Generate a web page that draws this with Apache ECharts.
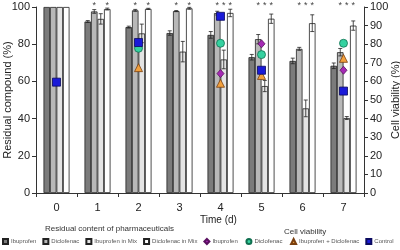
<!DOCTYPE html>
<html>
<head>
<meta charset="utf-8">
<script src="https://cdn.jsdelivr.net/npm/echarts@6/dist/echarts.min.js"></script>
<style>
  html, body { margin: 0; padding: 0; background: #fff; }
  #chart { width: 400px; height: 250px; }
</style>
</head>
<body>
<div id="chart"></div>
<script>
// days on the x axis
const days = ['0', '1', '2', '3', '4', '5', '6', '7'];

// residual compound (%), bars
const ibuprofen = [100, 92.2, 89.2, 86, 85, 73, 71, 68.4];
const diclofenac = [100, 97.6, 98.2, 97.8, 96.7, 82.7, 77.5, 75.7];
const ibuprofenMix = [100, 93.6, 85.8, 76, 71.8, 57.5, 45.5, 40.3];
const diclofenacMix = [100, 98.9, 99, 99.3, 96.8, 93.7, 91.3, 90];

// error (+/-) for each bar
const ibuprofenErr = [0, 0.5, 0.5, 1.2, 1.8, 1.5, 1.5, 1.5];
const diclofenacErr = [0, 1, 0.5, 0.3, 1, 2.5, 0.8, 2];
const ibuprofenMixErr = [0, 2.8, 5, 5.5, 5, 3, 4.5, 0.8];
const diclofenacMixErr = [0, 0.5, 0.3, 0.5, 2, 2.5, 4.5, 2.5];

// cell viability (%), markers
const viabIbuprofen = ['-', '-', '-', '-', 64.2, 80.2, '-', 66];
const viabDiclofenac = ['-', '-', 77.8, '-', 80.5, 74.4, '-', 80.5];
const viabMix = ['-', '-', 67.4, '-', 59, 63.2, '-', 72.4];
const viabControl = [59.6, '-', 80.9, '-', 95, 66, '-', 54.8];

// asterisks: [day, bar index]
const stars = [[1, 1], [1, 3], [2, 1], [2, 3], [3, 1], [3, 3],
  [4, 1], [4, 2], [4, 3], [5, 1], [5, 2], [5, 3],
  [6, 1], [6, 2], [6, 3], [7, 1], [7, 2], [7, 3]];

const barW = 6.5;
const font = 'Liberation Sans';
const axisColor = '#333';

var myChart = echarts.init(document.getElementById('chart'));

function barSeries(name, data, color) {
  return {
    name: name,
    type: 'bar',
    data: data,
    barWidth: barW,
    barGap: '0%',
    itemStyle: { color: color, borderColor: '#222', borderWidth: 0.8 },
    z: 2,
  };
}

function errorSeries(values, errs, idx) {
  return {
    type: 'custom',
    z: 5,
    silent: true,
    encode: { x: 0, y: [1, 2] },
    data: values.map((v, i) => [i, v - errs[i], v + errs[i]]),
    renderItem: function (params, api) {
      if (api.value(2) - api.value(1) <= 0) return null;
      const i = api.value(0);
      const lo = api.coord([i, api.value(1)]);
      const hi = api.coord([i, api.value(2)]);
      const x = lo[0] + (idx - 1.5) * barW;
      const c = 2;
      const st = { stroke: '#222', lineWidth: 0.8 };
      return {
        type: 'group',
        children: [
          { type: 'line', shape: { x1: x, y1: lo[1], x2: x, y2: hi[1] }, style: st },
          { type: 'line', shape: { x1: x - c, y1: hi[1], x2: x + c, y2: hi[1] }, style: st },
          { type: 'line', shape: { x1: x - c, y1: lo[1], x2: x + c, y2: lo[1] }, style: st },
        ],
      };
    },
  };
}

function markerSeries(name, data, symbol, size, color, border) {
  return {
    name: name,
    type: 'scatter',
    yAxisIndex: 1,
    data: data,
    symbol: symbol,
    symbolSize: size,
    itemStyle: { color: color, borderColor: border, borderWidth: 0.8, opacity: 1 },
    z: 10,
  };
}

var option = {
  animation: false,
  textStyle: { fontFamily: font },
  grid: { left: 36, right: 36, top: 7, bottom: 57, containLabel: false, outerBoundsMode: 'none' },
  legend: {
    left: 2,
    top: 238,
    padding: 0,
    itemWidth: 5,
    itemHeight: 5,
    itemGap: 6,
    textStyle: { fontSize: 6, color: '#555', fontFamily: font, padding: [0, 0, 0, -2] },
    data: [
      { name: 'Ibuprofen', icon: 'rect' },
      { name: 'Diclofenac', icon: 'rect' },
      { name: 'Ibuprofen in Mix', icon: 'rect' },
      { name: 'Diclofenac in Mix', icon: 'rect' },
      { name: 'Ibuprofen ', icon: 'diamond' },
      { name: 'Diclofenac ', icon: 'circle' },
      { name: 'Ibuprofen + Diclofenac', icon: 'triangle' },
      { name: 'Control', icon: 'rect' },
    ],
  },
  xAxis: {
    type: 'category',
    data: days,
    axisLine: { lineStyle: { color: axisColor, width: 1 } },
    axisTick: { show: true, length: 4, lineStyle: { color: axisColor } },
    axisLabel: { fontSize: 11, color: '#222', margin: 9 },
    splitLine: { show: false },
  },
  yAxis: [
    {
      type: 'value',
      min: 0,
      max: 100,
      interval: 20,
      name: 'Residual compound (%)',
      nameLocation: 'middle',
      nameRotate: 90,
      nameGap: 23,
      nameMoveOverlap: false,
      nameTextStyle: { fontSize: 11, color: '#222' },
      axisLine: { show: true, lineStyle: { color: axisColor } },
      axisTick: { show: true, length: 4, lineStyle: { color: axisColor } },
      axisLabel: { fontSize: 11, color: '#222', margin: 6 },
      splitLine: { show: false },
    },
    {
      type: 'value',
      min: 0,
      max: 100,
      interval: 10,
      position: 'right',
      name: 'Cell viability (%)',
      nameLocation: 'middle',
      nameRotate: 90,
      nameGap: 26,
      nameMoveOverlap: false,
      nameTextStyle: { fontSize: 11, color: '#222' },
      axisLine: { show: true, lineStyle: { color: axisColor } },
      axisTick: { show: true, length: 4, lineStyle: { color: axisColor } },
      axisLabel: { fontSize: 11, color: '#222', margin: 6 },
      splitLine: { show: false },
    },
  ],
  graphic: [
    { type: 'text', left: 200, top: 215, style: { text: 'Time (d)', font: '10px ' + font, fill: '#222' } },
    { type: 'text', left: 45, top: 225, style: { text: 'Residual content of pharmaceuticals', font: '8px ' + font, fill: '#333' } },
    { type: 'text', left: 284, top: 228, style: { text: 'Cell viability', font: '8px ' + font, fill: '#333' } },
  ],
  series: [
    barSeries('Ibuprofen', ibuprofen, '#7b7b7b'),
    barSeries('Diclofenac', diclofenac, '#b8b8b8'),
    barSeries('Ibuprofen in Mix', ibuprofenMix, '#e4e4e4'),
    barSeries('Diclofenac in Mix', diclofenacMix, '#ffffff'),
    errorSeries(ibuprofen, ibuprofenErr, 0),
    errorSeries(diclofenac, diclofenacErr, 1),
    errorSeries(ibuprofenMix, ibuprofenMixErr, 2),
    errorSeries(diclofenacMix, diclofenacMixErr, 3),
    {
      type: 'custom',
      silent: true,
      z: 6,
      clip: false,
      data: stars,
      renderItem: function (params, api) {
        const p = api.coord([api.value(0), 100]);
        const x = p[0] + (api.value(1) - 1.5) * barW;
        return {
          type: 'text',
          x: x,
          y: p[1] - 6,
          style: { text: '*', align: 'center', verticalAlign: 'top', font: '9px ' + font, fill: '#444' },
        };
      },
    },
    markerSeries('Ibuprofen ', viabIbuprofen, 'diamond', [7, 8], '#a52ab5', '#5a1060'),
    markerSeries('Diclofenac ', viabDiclofenac, 'circle', 8, '#35d1a0', '#107050'),
    markerSeries('Ibuprofen + Diclofenac', viabMix, 'triangle', 8, '#f2a03c', '#7a4010'),
    markerSeries('Control', viabControl, 'rect', 8, '#1a1ad8', '#0a0a60'),
  ],
};

myChart.setOption(option);
myChart.resize();
</script>
</body>
</html>
